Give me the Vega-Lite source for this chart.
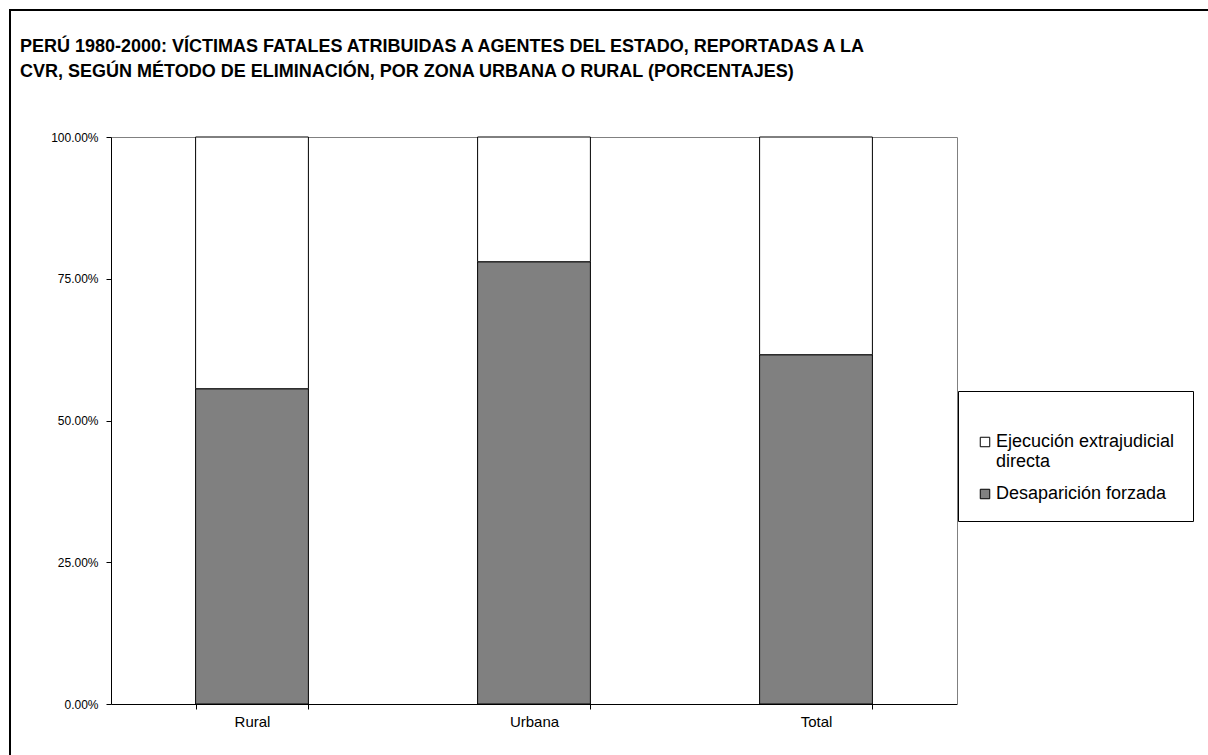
{
  "$schema": "https://vega.github.io/schema/vega-lite/v6.json",
  "width": 1200,
  "height": 748,
  "autosize": {"type": "none"},
  "padding": {"left": 10, "top": 10, "right": 0, "bottom": 0},
  "background": "white",
  "config": {
    "view": {"stroke": "black", "strokeWidth": 2, "fill": "white"},
    "font": "Liberation Sans"
  },
  "title": {
    "text": [
      "PERÚ 1980-2000: VÍCTIMAS FATALES ATRIBUIDAS A AGENTES DEL ESTADO, REPORTADAS A LA",
      "CVR, SEGÚN MÉTODO DE ELIMINACIÓN, POR ZONA URBANA O RURAL (PORCENTAJES)"
    ],
    "anchor": "start",
    "frame": "group",
    "orient": "top",
    "offset": 0,
    "dx": 10,
    "dy": 71,
    "fontSize": 18,
    "fontWeight": "bold",
    "font": "Liberation Sans",
    "color": "black",
    "lineHeight": 25
  },
  "data": {
    "values": [
      {"zona": "Rural", "metodo": "Desaparición forzada", "orden": 1, "porcentaje": 0.556},
      {"zona": "Rural", "metodo": "Ejecución extrajudicial directa", "orden": 2, "porcentaje": 0.444},
      {"zona": "Urbana", "metodo": "Desaparición forzada", "orden": 1, "porcentaje": 0.78},
      {"zona": "Urbana", "metodo": "Ejecución extrajudicial directa", "orden": 2, "porcentaje": 0.22},
      {"zona": "Total", "metodo": "Desaparición forzada", "orden": 1, "porcentaje": 0.616},
      {"zona": "Total", "metodo": "Ejecución extrajudicial directa", "orden": 2, "porcentaje": 0.384}
    ]
  },
  "layer": [
    {
      "mark": {"type": "bar", "stroke": "black", "strokeWidth": 1},
      "encoding": {
        "x": {
          "field": "zona",
          "type": "nominal",
          "sort": ["Rural", "Urbana", "Total"],
          "scale": {"range": [101, 947], "paddingInner": 0.6, "paddingOuter": 0.3},
          "axis": {
            "title": null,
            "orient": "bottom",
            "offset": -54,
            "tickBand": "extent",
            "grid": false,
            "domainColor": "black",
            "tickColor": "black",
            "tickSize": 5,
            "labelAngle": 0,
            "labelFont": "Liberation Sans",
            "labelFontSize": 15,
            "labelColor": "black",
            "labelPadding": 5
          }
        },
        "y": {
          "field": "porcentaje",
          "type": "quantitative",
          "stack": "zero",
          "scale": {"domain": [0, 1], "range": [694, 127], "nice": false},
          "axis": {
            "title": null,
            "orient": "left",
            "offset": -101,
            "values": [0, 0.25, 0.5, 0.75, 1],
            "format": ".2%",
            "grid": false,
            "domainColor": "black",
            "tickColor": "black",
            "tickSize": 5,
            "labelFont": "Liberation Sans",
            "labelFontSize": 12,
            "labelColor": "black",
            "labelPadding": 8
          }
        },
        "color": {
          "field": "metodo",
          "type": "nominal",
          "scale": {
            "domain": ["Ejecución extrajudicial directa", "Desaparición forzada"],
            "range": ["white", "#808080"]
          },
          "legend": {
            "title": " ",
            "titleFontSize": 14,
            "titlePadding": 10,
            "orient": "none",
            "legendX": 948,
            "legendY": 381,
            "strokeColor": "black",
            "fillColor": "white",
            "padding": 18,
            "symbolType": "square",
            "symbolSize": 90,
            "symbolStrokeColor": "black",
            "symbolStrokeWidth": 1,
            "symbolOpacity": 1,
            "labelFont": "Liberation Sans",
            "labelFontSize": 18,
            "labelColor": "black",
            "labelOffset": 2,
            "labelLimit": 300,
            "rowPadding": 14,
            "labelExpr": "datum.label == 'Ejecución extrajudicial directa' ? ['Ejecución extrajudicial', 'directa'] : datum.label"
          }
        },
        "order": {"field": "orden", "type": "quantitative"}
      }
    },
    {
      "mark": {"type": "tick", "opacity": 0},
      "encoding": {
        "x": {
          "field": "zona",
          "type": "nominal",
          "sort": ["Rural", "Urbana", "Total"],
          "axis": {
            "title": null,
            "orient": "top",
            "offset": -127,
            "labels": false,
            "ticks": false,
            "grid": false,
            "domainColor": "#808080",
            "domainWidth": 1
          }
        },
        "y": {
          "field": "porcentaje",
          "type": "quantitative",
          "axis": {
            "title": null,
            "orient": "right",
            "offset": -253,
            "labels": false,
            "ticks": false,
            "grid": false,
            "domainColor": "#808080",
            "domainWidth": 1
          }
        }
      }
    }
  ],
  "resolve": {"axis": {"x": "independent", "y": "independent"}}
}
